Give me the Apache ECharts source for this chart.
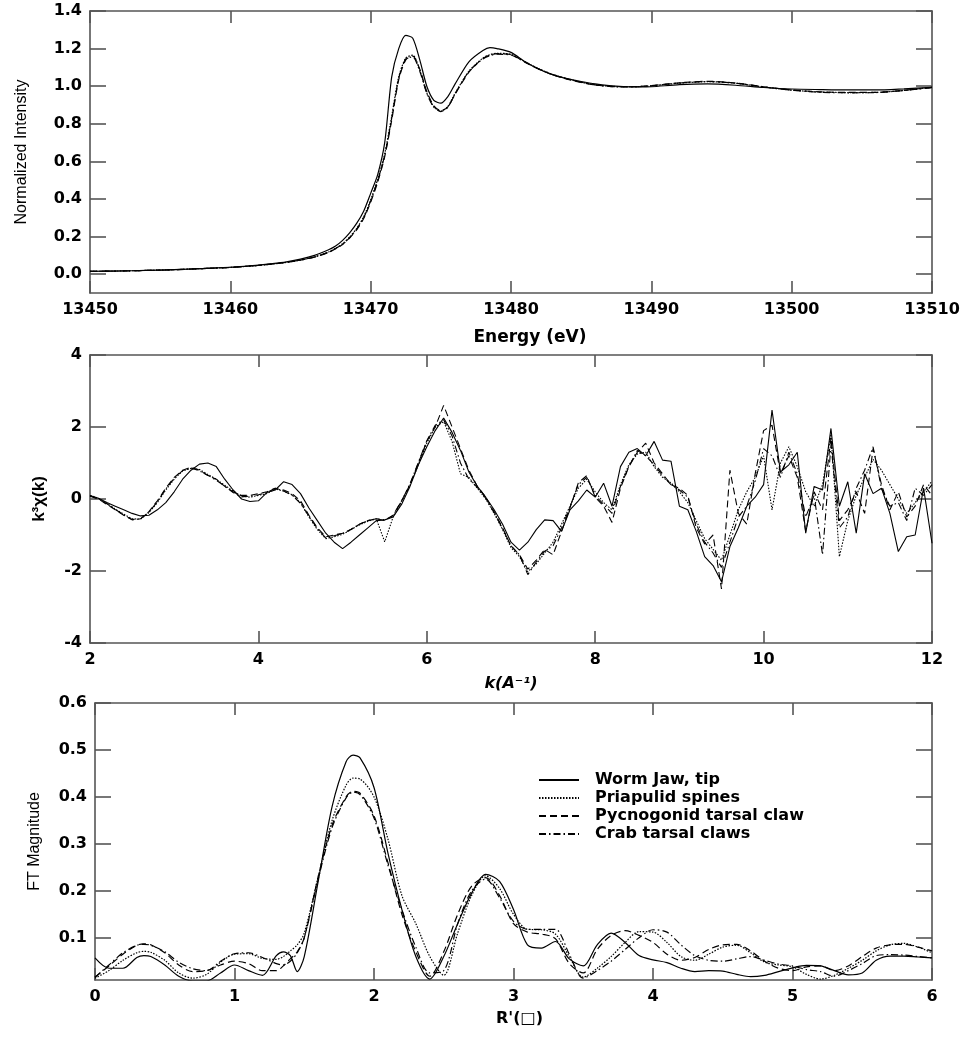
<!DOCTYPE html>
<html>
<head>
<meta charset="utf-8">
<script src="https://cdn.jsdelivr.net/npm/echarts@6/dist/echarts.min.js"></script>
<style>
html,body{margin:0;padding:0;background:#fff;}
#chart{width:973px;height:1050px;}
</style>
</head>
<body>
<div id="chart"></div>
<script>
// ---------- DATA ----------
const seriesNames = ['Worm Jaw, tip', 'Priapulid spines', 'Pycnogonid tarsal claw', 'Crab tarsal claws'];

// Panel 1: XANES
const energy = [13450,13452,13454,13456,13458,13460,13461,13462,13463,13464,13465,13466,13467,13467.5,13468,13468.5,13469,13469.5,13470,13470.5,13471,13471.5,13472,13472.5,13473,13473.5,13474,13474.5,13475,13475.5,13476,13477,13478,13478.5,13479,13480,13481,13482,13483,13484,13485,13486,13487,13488,13489,13490,13492,13494,13496,13498,13500,13502,13504,13506,13508,13510];
const xanesWorm = [0.015,0.017,0.020,0.024,0.030,0.037,0.042,0.048,0.056,0.066,0.080,0.100,0.130,0.150,0.180,0.220,0.270,0.335,0.430,0.530,0.700,1.050,1.200,1.270,1.255,1.140,1.000,0.925,0.910,0.945,1.010,1.130,1.190,1.205,1.200,1.180,1.130,1.090,1.060,1.040,1.025,1.012,1.003,0.998,0.996,0.997,1.008,1.012,1.005,0.993,0.985,0.982,0.980,0.980,0.986,0.994];
const xanesPriapulid = [0.015,0.017,0.020,0.024,0.030,0.036,0.041,0.047,0.054,0.063,0.075,0.092,0.118,0.138,0.162,0.198,0.243,0.305,0.395,0.505,0.640,0.840,1.050,1.150,1.165,1.085,0.965,0.890,0.868,0.892,0.960,1.080,1.150,1.168,1.175,1.170,1.130,1.092,1.062,1.040,1.022,1.008,1.000,0.997,0.998,1.002,1.016,1.024,1.016,0.996,0.979,0.969,0.966,0.967,0.978,0.994];
const xanesPycnogonid = [0.015,0.017,0.020,0.024,0.030,0.036,0.041,0.047,0.054,0.063,0.075,0.091,0.116,0.135,0.158,0.192,0.236,0.296,0.383,0.490,0.625,0.820,1.035,1.140,1.160,1.090,0.972,0.895,0.870,0.890,0.955,1.075,1.148,1.166,1.173,1.168,1.128,1.090,1.060,1.038,1.020,1.006,0.999,0.997,0.998,1.003,1.018,1.026,1.017,0.997,0.980,0.970,0.967,0.967,0.978,0.994];
const xanesCrab = [0.015,0.017,0.020,0.024,0.030,0.036,0.041,0.047,0.054,0.063,0.075,0.092,0.117,0.137,0.160,0.195,0.240,0.300,0.390,0.498,0.632,0.830,1.042,1.145,1.155,1.080,0.962,0.888,0.865,0.888,0.958,1.078,1.145,1.163,1.170,1.166,1.128,1.091,1.061,1.039,1.021,1.007,0.999,0.996,0.997,1.002,1.017,1.025,1.016,0.996,0.979,0.968,0.965,0.966,0.977,0.993];

// Panel 2: EXAFS k^3 chi(k)
const kValues = [2.0,2.1,2.2,2.3,2.4,2.5,2.6,2.7,2.8,2.9,3.0,3.1,3.2,3.3,3.4,3.5,3.6,3.7,3.8,3.9,4.0,4.1,4.2,4.3,4.4,4.5,4.6,4.7,4.8,4.9,5.0,5.1,5.2,5.3,5.4,5.5,5.6,5.7,5.8,5.9,6.0,6.1,6.2,6.3,6.4,6.5,6.6,6.7,6.8,6.9,7.0,7.1,7.2,7.3,7.4,7.5,7.6,7.7,7.8,7.9,8.0,8.1,8.2,8.3,8.4,8.5,8.6,8.7,8.8,8.9,9.0,9.1,9.2,9.3,9.4,9.5,9.6,9.7,9.8,9.9,10.0,10.1,10.2,10.3,10.4,10.5,10.6,10.7,10.8,10.9,11.0,11.1,11.2,11.3,11.4,11.5,11.6,11.7,11.8,11.9,12.0];
const exafsWorm = [0.10,0.02,-0.10,-0.20,-0.30,-0.40,-0.47,-0.45,-0.30,-0.10,
  0.20,0.55,0.80,0.97,1.00,0.90,0.55,0.25,0.00,-0.07,
  -0.05,0.18,0.25,0.48,0.40,0.15,-0.25,-0.60,-0.95,-1.20,
  -1.38,-1.20,-1.00,-0.80,-0.60,-0.58,-0.50,-0.15,0.35,0.95,
  1.45,1.90,2.25,1.85,1.35,0.75,0.35,0.05,-0.30,-0.70,
  -1.20,-1.42,-1.20,-0.85,-0.58,-0.60,-0.90,-0.30,-0.05,0.25,
  0.05,0.44,-0.20,0.90,1.30,1.40,1.20,1.60,1.08,1.05,
  -0.20,-0.30,-0.90,-1.60,-1.85,-2.30,-1.32,-0.80,-0.20,0.05,
  0.40,2.47,0.75,0.95,1.30,-0.95,0.35,0.25,1.96,-0.20,
  0.48,-0.95,0.70,0.15,0.30,-0.40,-1.46,-1.05,-1.00,0.30,
  -1.23];
const exafsPriapulid = [0.10,0.02,-0.12,-0.28,-0.42,-0.55,-0.56,-0.38,-0.10,0.25,
  0.55,0.78,0.85,0.82,0.68,0.55,0.38,0.22,0.08,0.05,
  0.10,0.15,0.28,0.22,0.12,-0.10,-0.50,-0.85,-1.10,-1.05,
  -0.98,-0.85,-0.72,-0.62,-0.55,-1.19,-0.50,-0.08,0.38,0.95,
  1.55,2.00,2.15,1.60,0.70,0.60,0.30,0.00,-0.40,-0.85,
  -1.35,-1.60,-2.02,-1.80,-1.50,-1.20,-0.70,-0.20,0.30,0.55,
  0.20,-0.10,-0.30,0.40,0.95,1.25,1.30,0.90,0.60,0.45,
  0.20,-0.10,-0.60,-1.10,-1.40,-1.70,-1.00,-0.30,0.20,0.60,
  1.20,-0.30,1.00,1.45,0.90,0.20,-0.20,0.40,1.80,-1.60,
  -0.60,0.10,0.60,1.10,0.80,0.40,0.00,-0.40,-0.10,0.20,
  0.50];
const exafsPycnogonid = [0.08,0.00,-0.15,-0.30,-0.45,-0.57,-0.55,-0.35,-0.05,0.30,
  0.60,0.80,0.88,0.80,0.65,0.55,0.35,0.20,0.10,0.10,
  0.15,0.20,0.30,0.25,0.15,-0.05,-0.45,-0.80,-1.05,-1.00,
  -0.95,-0.85,-0.70,-0.60,-0.55,-0.60,-0.45,-0.05,0.40,1.00,
  1.60,2.00,2.60,2.00,1.40,0.80,0.35,0.05,-0.35,-0.80,
  -1.30,-1.55,-1.95,-1.70,-1.40,-1.55,-0.90,-0.25,0.45,0.65,
  0.05,-0.20,-0.65,0.30,0.90,1.30,1.55,1.00,0.70,0.40,
  0.30,0.10,-0.80,-1.25,-1.00,-2.50,0.80,-0.40,-0.70,0.70,
  1.90,2.05,0.70,1.20,0.60,-0.90,0.20,-0.30,1.70,-0.60,
  -0.30,0.20,-0.40,1.40,0.40,-0.30,0.20,-0.50,-0.20,0.40,
  0.10];
const exafsCrab = [0.09,0.01,-0.13,-0.29,-0.44,-0.58,-0.55,-0.36,-0.08,0.28,
  0.58,0.79,0.86,0.78,0.66,0.52,0.36,0.18,0.06,0.08,
  0.12,0.18,0.30,0.22,0.10,-0.12,-0.48,-0.82,-1.08,-1.02,
  -0.96,-0.84,-0.70,-0.60,-0.55,-0.58,-0.46,-0.06,0.42,1.02,
  1.62,2.05,2.20,1.75,1.00,0.55,0.32,0.02,-0.38,-0.82,
  -1.30,-1.55,-2.10,-1.75,-1.45,-1.30,-0.80,-0.22,0.40,0.60,
  0.10,-0.15,-0.40,0.35,0.90,1.35,1.20,0.95,0.65,0.40,
  0.25,0.05,-0.70,-1.20,-1.50,-1.90,-1.20,-0.50,-0.20,0.50,
  1.40,1.20,0.60,1.30,0.70,-0.50,0.10,-1.55,1.50,-0.80,
  -0.50,0.30,0.80,1.45,0.30,-0.20,-0.10,-0.60,0.30,0.10,
  0.40];

// Panel 3: Fourier transform magnitude
const rValues = [0,0.1,0.2,0.3,0.35,0.4,0.5,0.6,0.7,0.8,0.9,1.0,1.1,1.2,1.3,1.35,1.4,1.45,1.5,1.6,1.7,1.8,1.85,1.9,2.0,2.1,2.2,2.3,2.4,2.5,2.6,2.7,2.8,2.9,3.0,3.1,3.2,3.3,3.4,3.5,3.6,3.7,3.8,3.9,4.0,4.1,4.2,4.3,4.4,4.5,4.6,4.7,4.8,4.9,5.0,5.1,5.2,5.3,5.4,5.5,5.6,5.7,5.8,5.9,6.0];
const ftWorm = [0.057,0.035,0.035,0.058,0.062,0.060,0.042,0.018,0.008,0.008,0.025,0.042,0.030,0.020,0.062,0.070,0.062,0.028,0.060,0.220,0.380,0.475,0.489,0.483,0.420,0.280,0.160,0.060,0.012,0.060,0.130,0.195,0.235,0.220,0.160,0.085,0.078,0.092,0.055,0.040,0.085,0.110,0.090,0.062,0.053,0.047,0.035,0.028,0.030,0.029,0.022,0.017,0.020,0.028,0.036,0.041,0.040,0.030,0.021,0.025,0.052,0.061,0.061,0.059,0.057];
const ftPriapulid = [0.014,0.030,0.052,0.068,0.071,0.069,0.052,0.025,0.014,0.022,0.048,0.065,0.066,0.056,0.054,0.060,0.072,0.085,0.110,0.230,0.350,0.425,0.440,0.438,0.400,0.310,0.190,0.130,0.060,0.020,0.110,0.190,0.232,0.205,0.150,0.118,0.117,0.108,0.060,0.016,0.035,0.060,0.090,0.113,0.112,0.090,0.060,0.052,0.065,0.080,0.084,0.068,0.048,0.042,0.038,0.022,0.012,0.020,0.035,0.052,0.072,0.085,0.088,0.080,0.068];
const ftPycnogonid = [0.016,0.040,0.065,0.084,0.087,0.085,0.068,0.042,0.028,0.030,0.042,0.050,0.045,0.030,0.030,0.040,0.055,0.070,0.100,0.230,0.340,0.400,0.412,0.408,0.360,0.260,0.150,0.070,0.018,0.070,0.150,0.210,0.228,0.190,0.130,0.112,0.108,0.098,0.045,0.025,0.075,0.105,0.115,0.105,0.090,0.065,0.052,0.058,0.075,0.085,0.086,0.072,0.050,0.035,0.030,0.038,0.040,0.030,0.040,0.060,0.078,0.085,0.086,0.080,0.072];
const ftCrab = [0.016,0.042,0.068,0.084,0.086,0.084,0.070,0.048,0.034,0.030,0.050,0.066,0.068,0.058,0.045,0.042,0.050,0.068,0.100,0.225,0.335,0.398,0.410,0.405,0.355,0.255,0.160,0.080,0.025,0.030,0.130,0.200,0.225,0.185,0.135,0.118,0.118,0.118,0.065,0.014,0.030,0.050,0.075,0.100,0.117,0.112,0.085,0.062,0.052,0.050,0.055,0.060,0.052,0.044,0.040,0.032,0.028,0.018,0.030,0.045,0.062,0.064,0.063,0.060,0.057];

// Tick labels
const xanesYTicks = [0,0.2,0.4,0.6,0.8,1.0,1.2,1.4];
const ftYTicks = [0.1,0.2,0.3,0.4,0.5,0.6];

// ---------- STYLE ----------
const lineTypes = ['solid', [1.5,1.5], [7,4], [7,3,1.5,3]];
const AXC = '#555';
const tickFont = {fontFamily:'DejaVu Sans', fontWeight:'bold', fontSize:16, color:'#000'};

function pair(xs, ys){ return xs.map((x,i)=>[x, ys[i]]); }

function mkX(grid, min, max, interval, top, extra){
  return Object.assign({
    type:'value', gridIndex:grid, min:min, max:max, interval:interval,
    position: top ? 'top' : 'bottom',
    axisLine:{show:true, onZero:false, lineStyle:{color:AXC, width:1.6}},
    axisTick:{show:true, inside:true, length:12, lineStyle:{color:AXC, width:1.6}},
    axisLabel: top ? {show:false} : Object.assign({margin:9, formatter:v=>String(v)}, tickFont),
    splitLine:{show:false}
  }, extra||{});
}
function mkY(grid, min, max, right, extra){
  return Object.assign({
    type:'value', gridIndex:grid, min:min, max:max,
    position: right ? 'right' : 'left',
    axisLine:{show:true, onZero:false, lineStyle:{color:AXC, width:1.6}},
    axisTick:{show:true, inside:true, length:16, lineStyle:{color:AXC, width:1.6}},
    axisLabel: right ? {show:false} : Object.assign({margin:8}, tickFont),
    splitLine:{show:false}
  }, extra||{});
}

const chart = echarts.init(document.getElementById('chart'), null, {renderer:'canvas'});

const xanesSets = [xanesWorm, xanesPriapulid, xanesPycnogonid, xanesCrab];
const exafsSets = [exafsWorm, exafsPriapulid, exafsPycnogonid, exafsCrab];
const ftSets = [ftWorm, ftPriapulid, ftPycnogonid, ftCrab];

const series = [];
seriesNames.forEach((n,i)=>{
  const common = {name:n, type:'line', showSymbol:false, symbol:'none', color:'#000', itemStyle:{color:'#000'}, z:5-i};
  series.push(Object.assign({}, common, {xAxisIndex:0, yAxisIndex:0, data:pair(energy, xanesSets[i]),
    smooth:0.25, lineStyle:{color:'#000', width:1.2, type:lineTypes[i]}}));
  series.push(Object.assign({}, common, {xAxisIndex:2, yAxisIndex:2, data:pair(kValues, exafsSets[i]),
    lineStyle:{color:'#000', width:1.1, type:lineTypes[i]}}));
  series.push(Object.assign({}, common, {xAxisIndex:4, yAxisIndex:4, data:pair(rValues, ftSets[i]),
    smooth:0.3, lineStyle:{color:'#000', width:1.2, type:lineTypes[i]}}));
});

const option = {
  animation:false,
  backgroundColor:'#fff',
  grid:[
    {left:90, top:11, width:842, height:282},
    {left:90, top:355, width:842, height:288},
    {left:95, top:703, width:837, height:277}
  ],
  legend:{
    data:seriesNames, orient:'vertical', left:533, top:767,
    itemWidth:40, itemHeight:12, itemGap:2,
    selectedMode:false,
    itemStyle:{opacity:0},
    textStyle:{fontFamily:'DejaVu Sans', fontWeight:'bold', fontSize:16, color:'#000', lineHeight:15, padding:[0,0,0,11]}
  },
  xAxis:[
    mkX(0, 13450, 13510, 10, false, {name:'Energy (eV)', nameLocation:'middle', nameGap:36,
      nameTextStyle:{fontFamily:'DejaVu Sans', fontWeight:'bold', fontSize:17, color:'#000', padding:[0,0,0,38]}}),
    mkX(0, 13450, 13510, 10, true),
    mkX(1, 2, 12, 2, false, {name:'k(A\u207B\u00B9)', nameLocation:'middle', nameGap:33,
      nameTextStyle:{fontFamily:'DejaVu Sans', fontWeight:'bold', fontStyle:'italic', fontSize:16, color:'#000'}}),
    mkX(1, 2, 12, 2, true),
    mkX(2, 0, 6, 1, false, {name:"R'(\u25A1)", nameLocation:'middle', nameGap:31,
      nameTextStyle:{fontFamily:'DejaVu Sans', fontWeight:'bold', fontSize:16, color:'#000', padding:[0,0,0,12]}}),
    mkX(2, 0, 6, 1, true)
  ],
  yAxis:[
    mkY(0, -0.1, 1.4, false, {
      axisTick:{show:true, inside:true, length:16, customValues:xanesYTicks, lineStyle:{color:AXC, width:1.6}},
      axisLabel:Object.assign({margin:8, customValues:xanesYTicks, formatter:v=>v.toFixed(1)}, tickFont),
      name:'Normalized Intensity', nameLocation:'middle', nameGap:60, nameRotate:90,
      nameTextStyle:{fontFamily:'Liberation Sans', fontSize:16, color:'#000'}}),
    mkY(0, -0.1, 1.4, true, {
      axisTick:{show:true, inside:true, length:16, customValues:xanesYTicks, lineStyle:{color:AXC, width:1.6}}}),
    mkY(1, -4, 4, false, {interval:2,
      name:'k\u00B3\u03C7(k)', nameLocation:'middle', nameGap:42, nameRotate:90,
      nameTextStyle:{fontFamily:'Liberation Sans', fontWeight:'bold', fontSize:17, color:'#000'}}),
    mkY(1, -4, 4, true, {interval:2}),
    mkY(2, 0.01, 0.6, false, {
      axisTick:{show:true, inside:true, length:16, customValues:ftYTicks, lineStyle:{color:AXC, width:1.6}},
      axisLabel:Object.assign({margin:8, customValues:ftYTicks, formatter:v=>v.toFixed(1)}, tickFont),
      name:'FT Magnitude', nameLocation:'middle', nameGap:52, nameRotate:90,
      nameTextStyle:{fontFamily:'Liberation Sans', fontSize:16, color:'#000'}}),
    mkY(2, 0.01, 0.6, true, {
      axisTick:{show:true, inside:true, length:16, customValues:ftYTicks, lineStyle:{color:AXC, width:1.6}}})
  ],
  series:series
};
chart.setOption(option);
</script>
</body>
</html>
